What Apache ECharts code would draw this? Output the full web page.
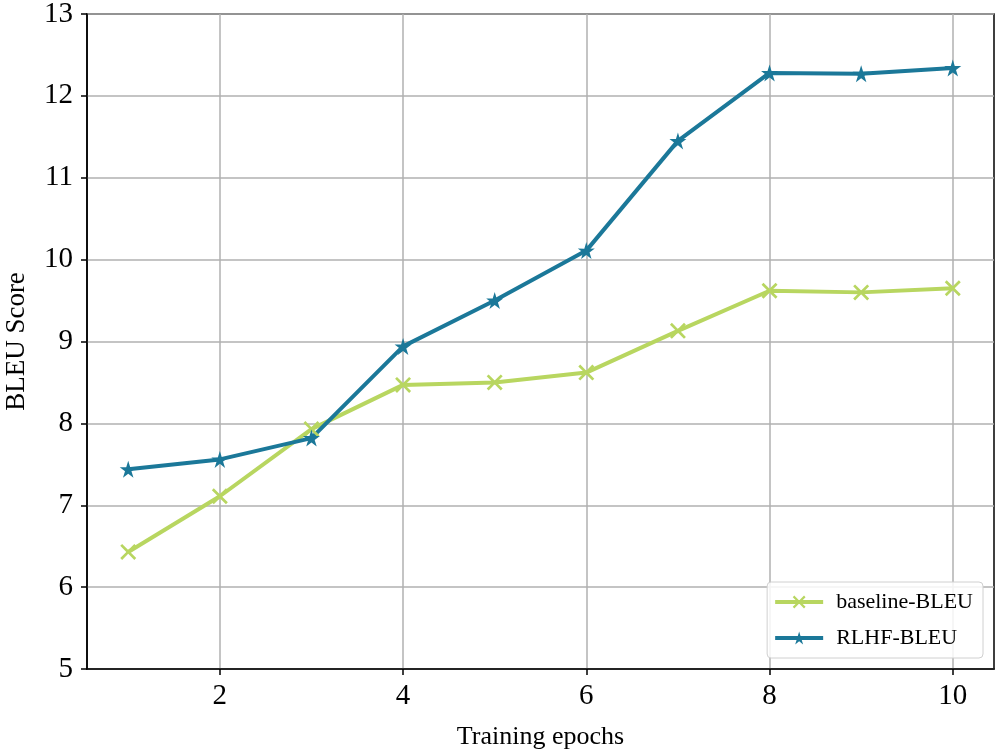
<!DOCTYPE html>
<html>
<head>
<meta charset="utf-8">
<script src="https://cdn.jsdelivr.net/npm/echarts@6/dist/echarts.min.js"></script>
<style>html,body{margin:0;padding:0;background:#fff}#c{width:1000px;height:754px}</style>
</head>
<body>
<div id="c"></div>
<script>
const epochs = [1, 2, 3, 4, 5, 6, 7, 8, 9, 10];
const baselineBLEU = [6.43, 7.11, 7.93, 8.47, 8.50, 8.62, 9.13, 9.62, 9.60, 9.65];
const rlhfBLEU = [7.44, 7.56, 7.82, 8.94, 9.50, 10.11, 11.45, 12.28, 12.27, 12.34];
const xTicks = [2, 4, 6, 8, 10];
const seriesNames = ['baseline-BLEU', 'RLHF-BLEU'];

const STAR = 'path://M100,0 L122.34,69.26 L195.11,69.1 L136.14,111.74 L158.78,180.9 L100,138 L41.22,180.9 L63.86,111.74 L4.89,69.1 L77.66,69.26 Z';
const CROSS = 'path://M0,1.2 L1.2,0 L5,3.8 L8.8,0 L10,1.2 L6.2,5 L10,8.8 L8.8,10 L5,6.2 L1.2,10 L0,8.8 L3.8,5 Z';
const FONT = '"Liberation Serif", "Times New Roman", serif';

const chart = echarts.init(document.getElementById('c'), null, {renderer: 'canvas'});
chart.setOption({
  animation: false,
  backgroundColor: '#fff',
  grid: {left: 87, top: 14, right: 6, bottom: 85, containLabel: false, outerBoundsMode: 'none',
         show: true, borderColor: '#000', borderWidth: 1.5, backgroundColor: 'transparent'},
  legend: {
    orient: 'vertical', right: 17, bottom: 96,
    itemWidth: 48, itemHeight: 16, itemGap: 14,
    padding: [9, 10, 9, 6],
    backgroundColor: 'rgba(255,255,255,0.85)',
    borderColor: '#d0d0d0', borderWidth: 1, borderRadius: 4,
    lineStyle: {width: 4},
    textStyle: {fontFamily: FONT, fontSize: 22, color: '#000', padding: [0, 0, 0, 8]},
    data: seriesNames
  },
  xAxis: {
    type: 'value', min: 0.55, max: 10.45,
    name: 'Training epochs', nameLocation: 'middle', nameGap: 55,
    nameTextStyle: {fontFamily: FONT, fontSize: 26, color: '#000'},
    axisLine: {show: true, lineStyle: {color: '#000', width: 1.5}},
    axisTick: {show: true, length: 6, customValues: xTicks, lineStyle: {color: '#000', width: 1.5}},
    axisLabel: {customValues: xTicks, fontFamily: FONT, fontSize: 29, color: '#000', margin: 13},
    splitLine: {show: true, lineStyle: {color: '#b0b0b0', width: 1.5}}
  },
  yAxis: {
    type: 'value', min: 5, max: 13, interval: 1,
    name: 'BLEU Score', nameLocation: 'middle', nameGap: 57,
    nameTextStyle: {fontFamily: FONT, fontSize: 27, color: '#000'},
    axisLine: {show: true, lineStyle: {color: '#000', width: 1.5}},
    axisTick: {show: true, length: 6, lineStyle: {color: '#000', width: 1.5}},
    axisLabel: {fontFamily: FONT, fontSize: 29, color: '#000', margin: 14},
    splitLine: {show: true, lineStyle: {color: '#b0b0b0', width: 1.5}}
  },
  series: [
    {
      name: seriesNames[0], type: 'line',
      data: epochs.map((e, i) => [e, baselineBLEU[i]]),
      symbol: CROSS, symbolSize: 16, showAllSymbol: true,
      lineStyle: {color: '#b8d660', width: 4},
      itemStyle: {color: '#b8d660'}
    },
    {
      name: seriesNames[1], type: 'line',
      data: epochs.map((e, i) => [e, rlhfBLEU[i]]),
      symbol: STAR, symbolSize: 17, showAllSymbol: true,
      lineStyle: {color: '#1b7899', width: 4},
      itemStyle: {color: '#1b7899'}
    }
  ]
});
</script>
</body>
</html>
